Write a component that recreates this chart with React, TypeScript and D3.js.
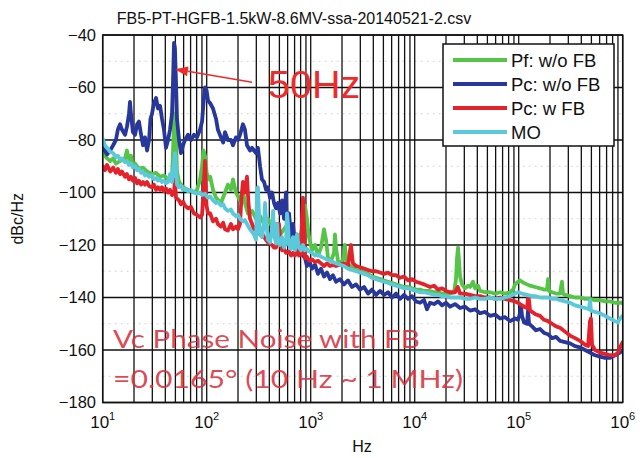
import React from 'react';
import * as d3 from 'd3';

type Pt = [number, number];

const chartTitle = 'FB5-PT-HGFB-1.5kW-8.6MV-ssa-20140521-2.csv';
const yTickValues = [-40, -60, -80, -100, -120, -140, -160, -180];
const yMinorValues = [-50, -70, -90, -110, -130, -150, -170];
const xDecadeExponents = [1, 2, 3, 4, 5, 6];
const seriesNames = ['Pf: w/o FB', 'Pc: w/o FB', 'Pc: w FB', 'MO'];
const seriesColors = ['#55c447', '#27379a', '#e4222b', '#5cc9da'];

// Forward power, no feedback
const pfWoFb: Pt[] = [
  [10, -85], [11, -87], [11.8, -88], [12.6, -87], [13.4, -89], [14.7, -88], [16.4, -87], [17.1, -84],
  [17.9, -88], [18.7, -86], [19.5, -90], [20.5, -89], [22.3, -91], [24.4, -90.5], [26.7, -92],
  [29.8, -93], [32.6, -92.5], [35.6, -94], [38.8, -93.5], [42.5, -95], [46.4, -94], [47.4, -85],
  [48.5, -72], [49.5, -70], [50.7, -80], [51.8, -92], [54.2, -96], [59.2, -98], [66.1, -99],
  [75.5, -100], [80.7, -99], [86.3, -95], [90.2, -90], [93.1, -84], [96.3, -86], [99.6, -92],
  [103, -95], [108, -94], [115, -99], [123, -102], [137, -104], [150, -100], [160, -97], [171, -99],
  [179, -95], [191, -100], [209, -103], [223, -99], [233, -104], [249, -108], [273, -107], [298, -110],
  [326, -109], [356, -112], [388, -110], [425, -113], [464, -112], [507, -116], [554, -114], [605, -112],
  [647, -118], [706, -116], [772, -119], [843, -112], [881, -105], [921, -110], [963, -117], [1030, -122],
  [1100, -120], [1175, -124], [1256, -121], [1343, -114], [1403, -118], [1468, -125], [1570, -126],
  [1675, -123], [1710, -116], [1751, -121], [1830, -126], [1998, -127], [2091, -124], [2130, -120],
  [2190, -125], [2285, -127.5], [2497, -128.5], [2729, -129.5], [2981, -130], [3258, -130.5], [3560, -131],
  [3890, -132], [4250, -132.5], [4644, -133], [5074, -133.5], [5540, -134], [6055, -134.5], [6615, -135],
  [7228, -135.5], [7898, -136], [8630, -136], [9420, -136.5], [10300, -137], [11250, -137], [12300, -137.5],
  [14040, -137.5], [15350, -138], [16770, -138], [18330, -138.5], [20010, -138.5], [21870, -138.5],
  [23880, -138], [24950, -133], [25530, -125], [26090, -121], [26670, -126], [27290, -132],
  [28500, -135], [30490, -136.5], [32600, -135.5], [34060, -136], [36380, -134], [38050, -136.5],
  [40640, -135.5], [42500, -137.5], [47480, -138], [53040, -138], [59250, -138.5], [66190, -138],
  [73940, -138.5], [82600, -138], [88100, -137], [92270, -135], [98500, -134], [103000, -133.5],
  [107600, -134], [112500, -134.5], [120200, -135], [128500, -135.5], [143600, -136], [160400, -136.5],
  [175300, -137], [187100, -137], [191500, -133], [195500, -137.5], [209200, -138], [228600, -138.5],
  [249700, -138.5], [260600, -134], [266700, -138.5], [278900, -139], [311500, -139.5], [347900, -140],
  [388600, -140], [434000, -140.5], [484800, -140.5], [541600, -141], [605000, -141], [676000, -141.5],
  [755000, -141.5], [844000, -142], [942000, -142], [1000000, -142],
];

// Cavity pickup, no feedback
const pcWoFb: Pt[] = [
  [10, -83], [10.5, -84], [11, -85.5], [11.8, -84], [12.6, -82], [13.4, -80], [14, -76], [14.7, -74],
  [15.3, -76], [16.4, -78], [17.1, -75], [17.9, -70], [18.3, -65.5], [18.7, -70], [19.5, -77],
  [20.5, -78], [21.4, -74], [22.3, -73], [23.4, -78], [24.4, -82], [25.5, -79], [26.7, -84],
  [27.9, -80], [28.8, -72], [29.8, -70], [31.1, -66], [32.6, -64], [34, -68], [35.6, -67], [37.2, -72],
  [38.8, -76], [40.6, -83], [42.5, -80], [44.4, -76], [46.4, -70], [47.4, -58], [48.5, -43],
  [49.5, -45], [50.7, -58], [51.8, -72], [54.2, -80], [56.6, -85], [59.2, -82], [61.8, -80],
  [66.1, -78], [70.6, -80], [75.5, -78], [80.7, -79], [86.3, -76], [90.2, -73], [93.1, -66],
  [96.3, -60], [99.6, -61], [103, -65], [108, -66], [115, -68], [123, -72], [128, -76], [137, -79],
  [144, -81], [150, -77], [160, -80], [171, -80], [179, -82], [191, -79], [200, -80], [209, -78],
  [223, -74], [233, -76], [244, -82], [261, -84], [273, -83], [285, -84], [298, -85], [311, -83],
  [326, -90], [340, -95], [356, -96], [372, -99], [388, -98], [406, -102], [425, -100], [444, -104],
  [464, -106], [485, -104], [507, -108], [530, -103], [554, -110], [579, -100], [592, -115], [619, -108],
  [647, -117], [676, -112], [706, -120], [738, -116], [772, -122], [807, -119], [843, -124], [881, -125],
  [921, -128], [963, -126], [1030, -129], [1100, -127.5], [1175, -131], [1256, -129], [1343, -132],
  [1435, -130.5], [1534, -133], [1638, -131.5], [1751, -134], [1914, -133], [2091, -135], [2285, -133.5],
  [2497, -136], [2729, -135], [2981, -137], [3258, -136], [3560, -138.5], [3890, -137], [4250, -139],
  [4644, -137.5], [5074, -139], [5540, -138], [6055, -140], [6615, -138.5], [7228, -140.5], [7898, -139],
  [8630, -140.5], [9420, -139.5], [10300, -141.5], [11250, -142], [12300, -141], [13130, -144.5],
  [14040, -142], [15350, -142.5], [16770, -141.5], [18330, -143], [20010, -142], [21870, -143.5],
  [24430, -142.5], [27290, -144], [30490, -143.5], [34060, -145], [38050, -144.5], [42500, -146],
  [47480, -145.5], [53040, -147], [59250, -146.5], [66190, -148], [73940, -147.5], [82600, -149],
  [92270, -148], [98500, -148.5], [103000, -146], [105200, -143], [107600, -147], [112500, -149.5],
  [120200, -150], [123000, -145], [125700, -150], [134300, -151], [146800, -152.5], [160400, -152],
  [175300, -153.5], [191500, -154], [209200, -155.5], [228600, -155], [249700, -156.5], [278900, -157],
  [311500, -157.5], [347900, -158.5], [388600, -159], [434000, -160], [484800, -161], [541600, -162],
  [605000, -162.5], [676000, -163], [755000, -163], [844000, -162], [942000, -161], [1000000, -160],
];

// Cavity pickup, with feedback
const pcWFb: Pt[] = [
  [10, -90], [10.5, -91.5], [11, -89.5], [11.8, -92], [12.6, -90.5], [13.4, -92.5], [14, -91],
  [14.7, -93], [15.3, -92], [16.4, -94], [17.1, -93], [17.9, -95], [18.7, -94], [19.5, -95.5],
  [20.5, -94.5], [21.4, -96.5], [22.3, -95.5], [23.4, -97], [24.4, -96], [25.5, -97], [26.7, -96],
  [27.9, -97.5], [29.8, -98], [31.1, -97], [32.6, -99], [34, -98], [35.6, -99], [37.2, -98],
  [38.8, -99.5], [40.6, -98.5], [42.5, -100], [44.4, -99], [46.4, -101], [48.5, -100], [49.5, -95],
  [50.7, -102], [54.2, -103], [56.6, -104.5], [59.2, -103.5], [61.8, -105], [66.1, -106], [70.6, -105.5],
  [75.5, -108], [80.7, -108.5], [86.3, -109.5], [90.2, -108.5], [93.1, -100], [96.3, -88], [99.6, -105],
  [103, -108], [108, -108], [115, -111], [123, -110], [128, -112], [137, -113], [144, -111.5], [150, -114],
  [160, -114.5], [171, -112], [179, -114], [191, -113], [200, -114], [209, -112], [216, -102], [223, -96],
  [233, -100], [244, -94], [252, -104], [261, -110], [273, -112], [285, -114], [298, -113], [311, -115],
  [326, -116], [340, -115.5], [356, -117], [372, -118], [388, -119], [406, -119.5], [425, -120],
  [444, -121], [464, -121], [485, -118], [496, -112], [507, -118], [530, -122], [554, -121.5], [579, -123],
  [619, -122.5], [647, -124], [676, -123], [706, -124], [738, -122], [772, -124], [807, -123.5],
  [825, -110], [843, -102], [862, -112], [881, -125], [921, -124.5], [963, -126], [1030, -125.5],
  [1100, -126.5], [1175, -126], [1256, -127], [1343, -128], [1435, -127], [1534, -128], [1638, -127.5],
  [1751, -128], [1914, -127.5], [2091, -127], [2285, -128], [2390, -122], [2440, -120], [2497, -124],
  [2550, -127], [2729, -128], [2981, -128.5], [3258, -129], [3560, -129.5], [3890, -130], [4250, -130],
  [4644, -130.5], [5074, -131], [5540, -130.5], [6055, -131.5], [6615, -131.5], [7228, -132.5], [7898, -132],
  [8630, -133.5], [9420, -133], [10300, -134], [11250, -134.5], [12300, -135], [14040, -136],
  [15350, -135.5], [16770, -137], [18330, -136.5], [20010, -137.5], [21870, -138], [24430, -138],
  [26000, -136], [27290, -138.5], [30490, -138.5], [34060, -139], [38050, -139.5], [42500, -139.5],
  [47480, -140], [53040, -140], [59250, -140.5], [66190, -140], [73940, -140.5], [82600, -141],
  [92270, -141.5], [98500, -142], [103000, -142.5], [107600, -143], [112500, -143.5], [120200, -144],
  [123000, -140], [125700, -141], [128500, -145], [134300, -145.5], [146800, -146.5], [160400, -147],
  [175300, -148.5], [191500, -149], [209200, -150], [228600, -151], [249700, -151.5], [278900, -153],
  [311500, -154.5], [347900, -155.5], [388600, -156.5], [434000, -158], [464500, -158.5], [484800, -149],
  [495500, -148], [507000, -158], [541600, -160], [605000, -161], [676000, -161.5], [755000, -162],
  [844000, -162], [901000, -161], [942000, -159], [1000000, -157],
];

// Master oscillator
const mo: Pt[] = [
  [10, -79.5], [10.5, -82], [11, -83], [11.8, -84.5], [12.6, -85], [13.4, -86.5], [14, -86], [14.7, -87.5],
  [15.3, -87], [16.4, -88.5], [17.1, -88], [17.9, -89.5], [18.7, -89], [19.5, -90.5], [20.5, -90],
  [21.4, -91.5], [22.3, -91], [23.4, -92.5], [24.4, -92], [25.5, -93.5], [26.7, -93], [27.9, -94],
  [29.8, -93.5], [31.1, -95], [32.6, -94.5], [34, -95.5], [35.6, -95], [37.2, -96], [38.8, -95.5],
  [40.6, -96.5], [42.5, -96], [44.4, -93], [46.4, -96], [48.5, -88], [49.5, -85], [50.7, -90],
  [51.8, -97], [54.2, -98], [56.6, -97.5], [59.2, -99], [61.8, -98.5], [66.1, -99.5], [70.6, -99],
  [75.5, -100], [80.7, -100.5], [86.3, -100], [90.2, -101], [96.3, -100.5], [103, -102], [108, -101.5],
  [115, -103], [123, -104], [128, -103.5], [137, -105], [144, -104.5], [150, -106], [160, -107],
  [171, -106.5], [179, -108], [191, -109], [200, -108.5], [209, -110], [223, -111], [233, -110.5],
  [244, -112], [261, -114], [273, -115], [285, -116], [298, -118], [304.5, -100], [311, -98],
  [318, -108], [326, -116], [340, -117], [356, -112], [364, -104], [372, -110], [388, -118], [406, -119],
  [425, -114], [434.5, -107], [444, -116], [464, -119.5], [475, -112], [485, -118], [507, -120],
  [530, -117], [554, -121], [579, -119], [592, -108], [605, -112], [619, -120], [647, -121.5], [676, -117],
  [706, -122], [738, -116], [772, -121], [807, -122], [843, -120], [881, -122], [921, -121.5],
  [963, -122.5], [1030, -123], [1100, -124], [1175, -123.5], [1256, -124.5], [1343, -125],
  [1435, -125.5], [1534, -126], [1638, -126.5], [1751, -127], [1914, -127.5], [2091, -128],
  [2285, -129], [2497, -129.5], [2729, -130], [2981, -130.5], [3258, -131], [3560, -131.5], [3890, -132.5],
  [4250, -133], [4644, -133.5], [5074, -134], [5540, -134.5], [6055, -135], [6615, -135.5], [7228, -136],
  [7898, -136.5], [8630, -136.5], [9420, -137], [10300, -137.5], [11250, -138], [12300, -138],
  [14040, -138.5], [15350, -139], [16770, -139], [18330, -139.5], [20010, -139.5], [21870, -140],
  [24430, -140], [27290, -140], [30490, -140.5], [34060, -140.5], [38050, -140], [42500, -140.5],
  [47480, -140.5], [53040, -140], [59250, -140.5], [66190, -140.5], [73940, -140], [82600, -139.5],
  [92270, -138.5], [98500, -138], [107600, -138.5], [120200, -139], [134300, -139.5], [146800, -139.5],
  [160400, -140], [175300, -140], [191500, -140], [209200, -140.5], [228600, -140.5], [249700, -141],
  [278900, -141.5], [311500, -142], [347900, -143], [388600, -143.5], [434000, -144], [474500, -144.5],
  [484800, -141], [495500, -145], [541600, -145.5], [605000, -146], [676000, -147], [755000, -148],
  [844000, -149], [901000, -149.5], [942000, -148], [1000000, -147],
];

const seriesData: Pt[][] = [pfWoFb, pcWoFb, pcWFb, mo];

// Arrow pointing at the 50 Hz line: tip and tail in (Hz, dBc/Hz)
const arrowTip: Pt = [49.5, -53];
const arrowTail: Pt = [273, -58];

const W = 644;
const H = 458;
const left = 102.7;
const right = 622.7;
const top = 35;
const bottom = 402.5;
const axisFont = '"Liberation Sans", Arial, sans-serif';

export default function App() {
  const x = d3.scaleLog().domain([10, 1e6]).range([left, right]);
  const y = d3.scaleLinear().domain([-180, -40]).range([bottom, top]);
  const line = d3
    .line<Pt>()
    .x((d) => x(d[0]))
    .y((d) => y(d[1]));

  const minorX = x.ticks();

  const tx = x(arrowTip[0]);
  const ty = y(arrowTip[1]);
  const sx = x(arrowTail[0]);
  const sy = y(arrowTail[1]);
  const ang = Math.atan2(ty - sy, tx - sx);
  const headLen = 13;
  const headHalf = 5;
  const bx = tx - headLen * Math.cos(ang);
  const by = ty - headLen * Math.sin(ang);
  const head = [
    [tx, ty],
    [bx + headHalf * Math.sin(ang), by - headHalf * Math.cos(ang)],
    [bx - headHalf * Math.sin(ang), by + headHalf * Math.cos(ang)],
  ]
    .map((p) => p.join(','))
    .join(' ');

  const legendX = 443;
  const legendY = 44;
  const legendW = 171;
  const legendH = 102;

  return (
    <svg
      width={W}
      height={H}
      style={{ position: 'absolute', left: 0, top: 0, background: '#fff' }}
      fontFamily={axisFont}
    >
      <rect x={0} y={0} width={W} height={H} fill="#fff" />
      <defs>
        <clipPath id="plot-clip">
          <rect x={left} y={top} width={right - left} height={bottom - top} />
        </clipPath>
      </defs>

      {/* faint intermediate level lines */}
      {yMinorValues.map((v) => (
        <line
          key={`ym${v}`}
          x1={left}
          x2={right}
          y1={y(v)}
          y2={y(v)}
          stroke="#d6d6d6"
          strokeWidth={1}
          strokeDasharray="2 4"
        />
      ))}

      {/* frequency grid */}
      {minorX.map((f, i) => (
        <line key={`gx${i}`} x1={x(f)} x2={x(f)} y1={top} y2={bottom} stroke="#111" strokeWidth={1.3} />
      ))}
      {yTickValues.map((v) => (
        <line key={`gy${v}`} x1={left} x2={right} y1={y(v)} y2={y(v)} stroke="#111" strokeWidth={1.3} />
      ))}

      <g clipPath="url(#plot-clip)" fill="none" strokeLinejoin="round" strokeLinecap="round">
        {seriesData.map((s, i) => (
          <path key={seriesNames[i]} d={line(s) || ''} stroke={seriesColors[i]} strokeWidth={3.8} />
        ))}
      </g>

      <rect x={left} y={top} width={right - left} height={bottom - top} fill="none" stroke="#111" strokeWidth={1.5} />

      {/* y axis */}
      {yTickValues.map((v) => (
        <text key={`ty${v}`} x={96} y={y(v) + 5.5} fontSize={16.5} textAnchor="end" fill="#111">
          {String(v).replace('-', '\u2212')}
        </text>
      ))}
      <text
        transform={`translate(23, ${(top + bottom) / 2}) rotate(-90)`}
        fontSize={16}
        textAnchor="middle"
        fill="#111"
      >
        dBc/Hz
      </text>

      {/* x axis */}
      {xDecadeExponents.map((e) => (
        <text key={`tx${e}`} x={x(Math.pow(10, e))} y={428} fontSize={17} textAnchor="middle" fill="#111">
          <tspan>10</tspan>
          <tspan dy={-8} fontSize={11}>
            {e}
          </tspan>
        </text>
      ))}
      <text x={362} y={452} fontSize={16} textAnchor="middle" fill="#111">
        Hz
      </text>

      {/* title */}
      <text x={294} y={24} fontSize={16} textAnchor="middle" fill="#111">
        {chartTitle}
      </text>

      {/* legend */}
      <rect x={legendX} y={legendY} width={legendW} height={legendH} fill="#fff" stroke="#111" strokeWidth={1.5} />
      {seriesNames.map((name, i) => {
        const ly = legendY + 16 + i * 24;
        return (
          <g key={`lg${name}`}>
            <line x1={legendX + 10} x2={legendX + 64} y1={ly} y2={ly} stroke={seriesColors[i]} strokeWidth={4} />
            <text x={legendX + 68} y={ly + 6.5} fontSize={18.5} fill="#111">
              {name}
            </text>
          </g>
        );
      })}

      {/* 50 Hz annotation */}
      <line x1={sx} y1={sy} x2={bx} y2={by} stroke="#ee2b2b" strokeWidth={1.6} />
      <polygon points={head} fill="#ee2b2b" />
      <text x={268} y={98} fontSize={39.5} fill="#ee2b2b" fontFamily={axisFont}>
        50Hz
      </text>

      {/* integrated phase noise note */}
      <g fill="#d8323e" fillOpacity={0.88} fontFamily="Lato, 'Open Sans', sans-serif" fontSize={25}>
        <text x={113} y={348} textLength={307} lengthAdjust="spacingAndGlyphs">
          Vc Phase Noise with FB
        </text>
        <text x={113} y={388} textLength={350} lengthAdjust="spacingAndGlyphs">
          =0.0165° (10 Hz ~ 1 MHz)
        </text>
      </g>
    </svg>
  );
}
